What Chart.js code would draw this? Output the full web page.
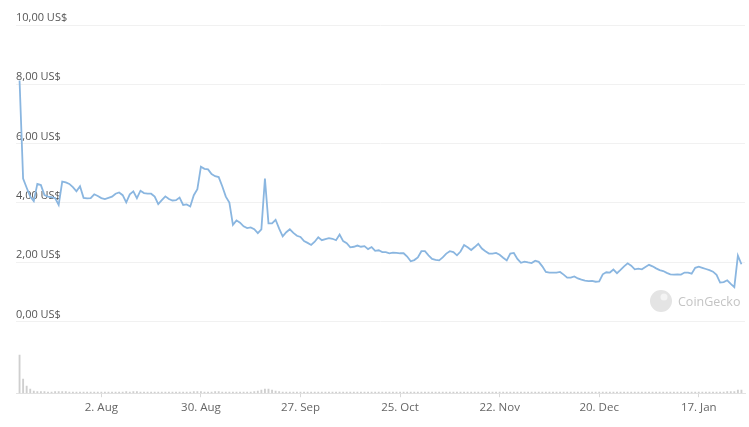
<!DOCTYPE html>
<html>
<head>
<meta charset="utf-8">
<script src="https://cdn.jsdelivr.net/npm/chart.js@4"></script>
<style>
    html, body { margin: 0; padding: 0; background: #fff; }
    #wrap { width: 749px; height: 427px; }
</style>
</head>
<body>
<div id="wrap"><canvas id="priceChart" width="749" height="427"></canvas></div>
<script>
// Daily close price (US$), one value per day from 10 Jul 2021 to 29 Jan 2022
const prices = [
    8.13, 4.82, 4.51, 4.21, 4.06, 4.64, 4.60, 4.26, 4.21, 4.19,
    4.16, 3.93, 4.72, 4.69, 4.64, 4.53, 4.39, 4.56, 4.17, 4.15,
    4.16, 4.29, 4.23, 4.16, 4.13, 4.17, 4.21, 4.31, 4.35, 4.26,
    4.02, 4.29, 4.39, 4.16, 4.41, 4.33, 4.31, 4.31, 4.21, 3.96,
    4.09, 4.22, 4.13, 4.08, 4.09, 4.18, 3.93, 3.95, 3.88, 4.26,
    4.46, 5.22, 5.15, 5.13, 4.97, 4.90, 4.87, 4.56, 4.21, 4.01,
    3.26, 3.41, 3.33, 3.21, 3.15, 3.17, 3.11, 2.98, 3.11, 4.82,
    3.31, 3.31, 3.43, 3.13, 2.87, 3.01, 3.11, 2.99, 2.89, 2.85,
    2.71, 2.65, 2.58, 2.69, 2.84, 2.74, 2.78, 2.81, 2.79, 2.74,
    2.93, 2.71, 2.64, 2.50, 2.52, 2.56, 2.52, 2.54, 2.44, 2.51,
    2.38, 2.40, 2.34, 2.34, 2.30, 2.32, 2.31, 2.30, 2.30, 2.19,
    2.03, 2.07, 2.16, 2.37, 2.37, 2.23, 2.11, 2.08, 2.06, 2.16,
    2.29, 2.37, 2.34, 2.23, 2.36, 2.58, 2.50, 2.41, 2.51, 2.62,
    2.46, 2.37, 2.29, 2.29, 2.31, 2.25, 2.15, 2.06, 2.29, 2.31,
    2.11, 1.98, 2.02, 1.99, 1.97, 2.05, 2.01, 1.86, 1.67, 1.65,
    1.65, 1.65, 1.67, 1.58, 1.48, 1.48, 1.52, 1.45, 1.41, 1.38,
    1.36, 1.37, 1.34, 1.35, 1.59, 1.66, 1.65, 1.75, 1.63, 1.74,
    1.86, 1.96, 1.88, 1.76, 1.78, 1.76, 1.84, 1.91, 1.86, 1.79,
    1.73, 1.70, 1.64, 1.59, 1.58, 1.59, 1.58, 1.65, 1.65, 1.61,
    1.81, 1.85, 1.81, 1.77, 1.73, 1.68, 1.57, 1.31, 1.33, 1.39,
    1.27, 1.16, 2.22, 1.93
];

// Daily trading volume (relative)
const volumes = [
    38, 14, 7, 4, 2, 1.5, 1.5, 1.5, 1, 1,
    1.5, 1.5, 1.5, 1.5, 1, 1, 1, 1, 1, 1,
    1, 1, 1, 1, 1, 1, 1, 1, 1, 1,
    1.5, 1, 1.5, 1.5, 1, 1, 1, 1, 1, 1,
    1, 1, 1, 1, 1, 1, 1, 1, 1, 1.5,
    1.5, 1.5, 1, 1, 1, 1.5, 1.5, 1, 1, 1,
    1, 1, 1, 1, 1, 1, 1.5, 2, 3, 4,
    4, 3, 2, 1.5, 1, 1, 1, 1, 1, 1,
    1, 1, 1, 1, 1, 1, 1, 1, 1, 1,
    1, 1, 1, 1, 1, 1, 1, 1, 1, 1,
    1, 1, 1, 1, 1, 1, 1, 1, 1, 1,
    1, 1, 1, 1, 1, 1, 1, 1, 1, 1,
    1, 1, 1, 1, 1, 1, 1, 1, 1, 1,
    1, 1, 1, 1, 1, 1, 1, 1, 1, 1,
    1, 1, 1, 1, 1, 1, 1, 1, 1, 1,
    1, 1, 1, 1, 1, 1, 1, 1, 1, 1,
    1, 1, 1, 1, 1, 1, 1, 1, 1, 1,
    1, 1, 1, 1, 1, 1, 1, 1, 1, 1,
    1, 1, 1, 1, 1, 1, 1, 1, 1, 1,
    1, 1, 1, 1, 1, 1, 1, 1, 1, 1.5,
    1.5, 1.5, 3, 3
];

// Axis ticks
const dateTickDays = [23, 51, 79, 107, 135, 163, 191];
const dateTickLabels = ['2. Aug', '30. Aug', '27. Sep', '25. Oct', '22. Nov', '20. Dec', '17. Jan'];
const priceTicks = [0, 2, 4, 6, 8, 10];
const priceTickLabels = ['0,00 US$', '2,00 US$', '4,00 US$', '6,00 US$', '8,00 US$', '10,00 US$'];

// CoinGecko watermark, bottom right of the plot
const watermark = {
    id: 'watermark',
    beforeDatasetsDraw(chart) {
        const ctx = chart.ctx;
        ctx.save();
        ctx.fillStyle = '#e4e4e4';
        ctx.beginPath();
        ctx.arc(661, 301, 11, 0, Math.PI * 2);
        ctx.fill();
        ctx.fillStyle = '#f4f4f4';
        ctx.beginPath();
        ctx.arc(664, 297, 3.5, 0, Math.PI * 2);
        ctx.fill();
        ctx.fillStyle = '#c4c4c4';
        ctx.font = '12.5px "Open Sans"';
        ctx.textBaseline = 'middle';
        ctx.fillText('CoinGecko', 678, 302);
        ctx.restore();
    }
};

document.addEventListener('DOMContentLoaded', () => {
    const ctx = document.getElementById('priceChart').getContext('2d');
    new Chart(ctx, {
        data: {
            datasets: [{
                type: 'line',
                label: 'Price',
                data: prices.map((p, i) => ({ x: i, y: p })),
                borderColor: '#8ab6e0',
                borderWidth: 1.8,
                pointRadius: 0,
                tension: 0,
                yAxisID: 'y',
                order: 1
            }, {
                type: 'bar',
                label: 'Volume',
                data: volumes.map((v, i) => ({ x: i, y: v })),
                backgroundColor: '#cfcfcf',
                barThickness: 1.2,
                yAxisID: 'vol',
                order: 2
            }]
        },
        options: {
            responsive: false,
            animation: false,
            layout: { padding: { left: 16, right: 4, top: 10, bottom: 8 } },
            plugins: { legend: { display: false }, tooltip: { enabled: false } },
            scales: {
                x: {
                    type: 'linear',
                    offset: false,
                    min: -1,
                    max: 204,
                    afterBuildTicks: axis => { axis.ticks = dateTickDays.map(v => ({ value: v })); },
                    ticks: {
                        autoSkip: false,
                        maxRotation: 0,
                        padding: 4,
                        color: '#666',
                        font: { family: '"Open Sans"', size: 11.5 },
                        callback: v => dateTickLabels[dateTickDays.indexOf(v)]
                    },
                    grid: { offset: false, drawOnChartArea: false, drawTicks: true, tickLength: 4, color: '#d8d8d8' },
                    border: { color: '#e3e3e3' }
                },
                y: {
                    position: 'left',
                    min: -2.42,
                    max: 10.506,
                    afterBuildTicks: axis => { axis.ticks = priceTicks.map(v => ({ value: v })); },
                    ticks: {
                        mirror: true,
                        padding: 0,
                        labelOffset: -7,
                        color: '#555',
                        font: { family: '"Open Sans"', size: 11 },
                        callback: v => priceTickLabels[priceTicks.indexOf(v)]
                    },
                    grid: { drawTicks: false, color: '#f1f1f1' },
                    border: { display: false }
                },
                vol: {
                    display: false,
                    min: 0,
                    max: 383
                }
            }
        },
        plugins: [watermark]
    });
});
</script>
</body>
</html>
